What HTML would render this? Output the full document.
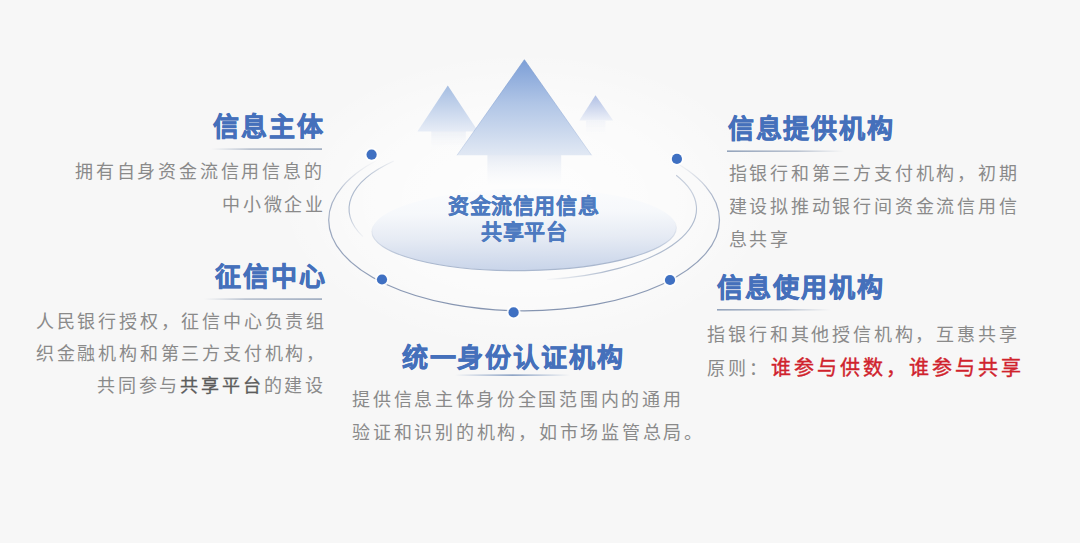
<!DOCTYPE html>
<html lang="zh-CN"><head><meta charset="utf-8">
<style>
html,body{margin:0;padding:0;}
body{width:1080px;height:543px;overflow:hidden;background:#f7f7f7;position:relative;font-family:"Liberation Sans",sans-serif;}
.t{position:absolute;white-space:nowrap;line-height:1;}
.b{font-size:18px;letter-spacing:2.8px;color:#8a8a8a;}
.h{font-size:26px;letter-spacing:1.9px;font-weight:bold;color:#4570bb;-webkit-text-stroke:0.6px #4570bb;}
.c{font-size:21px;letter-spacing:0.6px;font-weight:bold;color:#4d7ac0;-webkit-text-stroke:0.3px #4d7ac0;}
.red{color:#d0222c;font-weight:normal;font-size:20px;letter-spacing:3.0px;-webkit-text-stroke:0.4px #d0222c;}
.dk{color:#5c5c5c;-webkit-text-stroke:0.3px #5c5c5c;}
svg{position:absolute;left:0;top:0;}
</style></head>
<body>
<svg width="1080" height="543" viewBox="0 0 1080 543">
  <defs>
    <radialGradient id="glow" cx="0.5" cy="0.5" r="0.5">
      <stop offset="0" stop-color="#ffffff" stop-opacity="0.85"/>
      <stop offset="0.6" stop-color="#ffffff" stop-opacity="0.5"/>
      <stop offset="1" stop-color="#ffffff" stop-opacity="0"/>
    </radialGradient>
    <linearGradient id="gBig" gradientUnits="userSpaceOnUse" x1="0" y1="60" x2="0" y2="156">
      <stop offset="0" stop-color="#7d9fd7"/>
      <stop offset="0.45" stop-color="#b0c5e6"/>
      <stop offset="1" stop-color="#e2e9f4"/>
    </linearGradient>
    <linearGradient id="gBigEdge" gradientUnits="userSpaceOnUse" x1="0" y1="60" x2="0" y2="156">
      <stop offset="0" stop-color="#6f92cc" stop-opacity="0.9"/>
      <stop offset="1" stop-color="#9fb4d8" stop-opacity="0.5"/>
    </linearGradient>
    <linearGradient id="gStem" gradientUnits="userSpaceOnUse" x1="0" y1="155" x2="0" y2="186">
      <stop offset="0" stop-color="#e6ebf4"/>
      <stop offset="1" stop-color="#f4f6fa" stop-opacity="0"/>
    </linearGradient>
    <linearGradient id="gSmallL" gradientUnits="userSpaceOnUse" x1="0" y1="86" x2="0" y2="133">
      <stop offset="0" stop-color="#a6bee2"/>
      <stop offset="1" stop-color="#e9eef7"/>
    </linearGradient>
    <linearGradient id="gStemL" gradientUnits="userSpaceOnUse" x1="0" y1="131" x2="0" y2="150">
      <stop offset="0" stop-color="#edf0f6"/>
      <stop offset="1" stop-color="#f6f7fa" stop-opacity="0"/>
    </linearGradient>
    <linearGradient id="gSmallR" gradientUnits="userSpaceOnUse" x1="0" y1="96" x2="0" y2="121">
      <stop offset="0" stop-color="#b2c1e5"/>
      <stop offset="1" stop-color="#eef1f8"/>
    </linearGradient>
    <linearGradient id="gStemR" gradientUnits="userSpaceOnUse" x1="0" y1="120" x2="0" y2="134">
      <stop offset="0" stop-color="#f1f3f8"/>
      <stop offset="1" stop-color="#f6f7fa" stop-opacity="0"/>
    </linearGradient>
    <filter id="soft" x="-20%" y="-20%" width="140%" height="140%"><feGaussianBlur stdDeviation="0.7"/></filter>
    <filter id="soft2" x="-20%" y="-20%" width="140%" height="140%"><feGaussianBlur stdDeviation="1.5"/></filter>
    <linearGradient id="gDisc" gradientUnits="userSpaceOnUse" x1="0" y1="188" x2="0" y2="271">
      <stop offset="0" stop-color="#fbfcfd"/>
      <stop offset="0.3" stop-color="#f6f8fb"/>
      <stop offset="0.6" stop-color="#e6ebf4"/>
      <stop offset="1" stop-color="#c8d4e9"/>
    </linearGradient>
    <linearGradient id="gRim" gradientUnits="userSpaceOnUse" x1="0" y1="222" x2="0" y2="262">
      <stop offset="0" stop-color="#a9b7ce" stop-opacity="0"/>
      <stop offset="1" stop-color="#a9b7ce" stop-opacity="1"/>
    </linearGradient>
    <linearGradient id="gMO" gradientUnits="userSpaceOnUse" x1="0" y1="160" x2="0" y2="195">
      <stop offset="0" stop-color="#fff" stop-opacity="0"/>
      <stop offset="1" stop-color="#fff" stop-opacity="1"/>
    </linearGradient>
    <mask id="mOuter" maskUnits="userSpaceOnUse" x="0" y="0" width="1080" height="543">
      <rect x="0" y="0" width="1080" height="543" fill="url(#gMO)"/>
    </mask>
    <linearGradient id="gInL" gradientUnits="userSpaceOnUse" x1="0" y1="158" x2="0" y2="240">
      <stop offset="0" stop-color="#afbbce" stop-opacity="0"/>
      <stop offset="0.25" stop-color="#afbbce"/>
      <stop offset="0.65" stop-color="#afbbce"/>
      <stop offset="1" stop-color="#afbbce" stop-opacity="0"/>
    </linearGradient>
    <linearGradient id="gInR" gradientUnits="userSpaceOnUse" x1="700" y1="170" x2="545" y2="283">
      <stop offset="0" stop-color="#afbbce" stop-opacity="0"/>
      <stop offset="0.15" stop-color="#afbbce"/>
      <stop offset="0.7" stop-color="#afbbce"/>
      <stop offset="1" stop-color="#afbbce" stop-opacity="0"/>
    </linearGradient>
    <linearGradient id="gOut" gradientUnits="userSpaceOnUse" x1="0" y1="165" x2="0" y2="312">
      <stop offset="0" stop-color="#b8c1d2"/>
      <stop offset="0.45" stop-color="#9ba8bf"/>
      <stop offset="1" stop-color="#8594b0"/>
    </linearGradient>
    <linearGradient id="ulL" x1="0" y1="0" x2="1" y2="0">
      <stop offset="0" stop-color="#b4bfce" stop-opacity="0"/>
      <stop offset="0.35" stop-color="#aab5c6" stop-opacity="0.85"/>
      <stop offset="1" stop-color="#9aa8bd"/>
    </linearGradient>
    <linearGradient id="ulR" x1="0" y1="0" x2="1" y2="0">
      <stop offset="0" stop-color="#93a3bb"/>
      <stop offset="0.6" stop-color="#aab5c6" stop-opacity="0.8"/>
      <stop offset="1" stop-color="#b4bfce" stop-opacity="0"/>
    </linearGradient>
    <linearGradient id="ulC" x1="0" y1="0" x2="1" y2="0">
      <stop offset="0" stop-color="#8fa5c6" stop-opacity="0"/>
      <stop offset="0.5" stop-color="#8fa5c6"/>
      <stop offset="1" stop-color="#8fa5c6" stop-opacity="0"/>
    </linearGradient>
  </defs>

  <!-- glow -->
  <ellipse cx="525" cy="200" rx="250" ry="150" fill="url(#glow)"/>

  <!-- small left arrow -->
  <g filter="url(#soft)">
  <rect x="431.3" y="131" width="34.5" height="20" fill="url(#gStemL)"/>
  <path d="M447.8 85.4 L478.2 131.5 L417.4 131.5 Z" fill="url(#gSmallL)"/>
  </g>
  <!-- small right arrow -->
  <g filter="url(#soft)">
  <rect x="586" y="120.5" width="19.4" height="14" fill="url(#gStemR)"/>
  <path d="M595.5 95.3 L613.2 120.6 L579.3 120.6 Z" fill="url(#gSmallR)"/>
  </g>
  <!-- big arrow stem -->
  <rect x="487.4" y="155" width="73.8" height="32" fill="url(#gStem)"/>
  <!-- big arrow head -->
  <path d="M524.4 59.7 L591.6 155.3 L457 155.3 Z" fill="url(#gBig)"/>
  <path d="M457 155.3 L524.4 59.7 L591.6 155.3" fill="none" stroke="url(#gBigEdge)" stroke-width="0.7"/>

  <!-- disc -->
  <ellipse cx="524.1" cy="229.5" rx="152.3" ry="41.1" transform="rotate(-0.75 524.1 229.5)" fill="url(#gDisc)" stroke="url(#gRim)" stroke-width="1.1"/>

  <!-- outer ring -->
  <g mask="url(#mOuter)">
  <ellipse cx="524.1" cy="220" rx="195.4" ry="90.8" fill="none" stroke="url(#gOut)" stroke-width="1.2"/>
  </g>
  <!-- inner ring arcs -->
  <path d="M393.72 161.02 A173.7 71.4 0 0 0 362.91 236.7" fill="none" stroke="url(#gInL)" stroke-width="1.1"/>
  <path d="M676.17 175.28 A173.7 71.4 0 0 1 546.97 279.51" fill="none" stroke="url(#gInR)" stroke-width="1.1"/>

  <!-- dots -->
  <g fill="#ffffff" opacity="0.8">
    <circle cx="371.6" cy="154.7" r="7"/>
    <circle cx="676.9" cy="158.9" r="7"/>
    <circle cx="382" cy="279.5" r="7"/>
    <circle cx="670" cy="280" r="7"/>
    <circle cx="513.6" cy="312.4" r="7"/>
  </g>
  <g fill="#3f70c2">
    <circle cx="371.6" cy="154.7" r="5.1"/>
    <circle cx="676.9" cy="158.9" r="5.1"/>
    <circle cx="382" cy="279.5" r="5.1"/>
    <circle cx="670" cy="280" r="5.1"/>
    <circle cx="513.6" cy="312.4" r="5.1"/>
  </g>

  <!-- underlines -->
  <rect x="211" y="148.3" width="111" height="1.6" fill="url(#ulL)"/>
  <rect x="204" y="298.3" width="118" height="1.6" fill="url(#ulL)"/>
  <rect x="727" y="150.4" width="117" height="1.6" fill="url(#ulR)"/>
  <rect x="717" y="309" width="114" height="1.6" fill="url(#ulR)"/>
  <rect x="455" y="374.3" width="115" height="1.7" fill="url(#ulC)"/>
</svg>

<!-- center text -->
<div class="t c" style="left:448px;top:194.8px;">资金流信用信息</div>
<div class="t c" style="left:481px;top:220.8px;">共享平台</div>

<!-- block 1 -->
<div class="t h" style="left:213px;top:113.7px;">信息主体</div>
<div class="t b" style="left:75px;top:163.3px;">拥有自身资金流信用信息的</div>
<div class="t b" style="left:222px;top:196.4px;">中小微企业</div>

<!-- block 2 -->
<div class="t h" style="left:215px;top:263.7px;">征信中心</div>
<div class="t b" style="left:35.8px;top:313.3px;">人民银行授权，征信中心负责组</div>
<div class="t b" style="left:35.8px;top:344.8px;">织金融机构和第三方支付机构，</div>
<div class="t b" style="left:97.1px;top:377.3px;">共同参与<span class="dk">共享平台</span>的建设</div>

<!-- block 3 -->
<div class="t h" style="left:727.7px;top:115.7px;">信息提供机构</div>
<div class="t b" style="left:728.5px;top:165.3px;">指银行和第三方支付机构，初期</div>
<div class="t b" style="left:728.5px;top:197.8px;">建设拟推动银行间资金流信用信</div>
<div class="t b" style="left:728.5px;top:230.6px;">息共享</div>

<!-- block 4 -->
<div class="t h" style="left:717.3px;top:274.7px;">信息使用机构</div>
<div class="t b" style="left:707.4px;top:325.8px;">指银行和其他授信机构，互惠共享</div>
<div class="t b" style="left:707.1px;top:360.3px;">原则：</div>
<div class="t b red" style="left:770.9px;top:357.6px;">谁参与供数，谁参与共享</div>

<!-- block 5 -->
<div class="t h" style="left:401.7px;top:344.7px;">统一身份认证机构</div>
<div class="t b" style="left:352.2px;top:390.8px;letter-spacing:2.7px;">提供信息主体身份全国范围内的通用</div>
<div class="t b" style="left:352.2px;top:423.8px;letter-spacing:2.75px;">验证和识别的机构，如市场监管总局。</div>
</body></html>
